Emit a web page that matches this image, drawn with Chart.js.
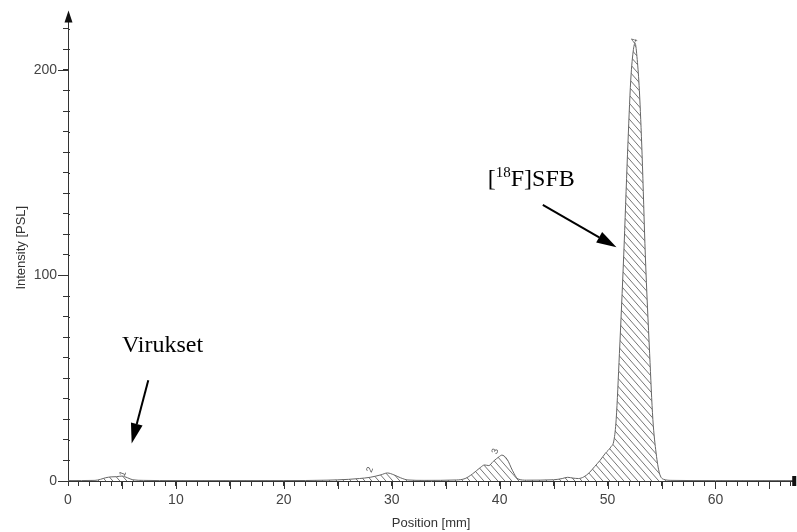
<!DOCTYPE html>
<html lang="fi">
<head>
<meta charset="UTF-8">
<title>Radio-TLC</title>
<script src="https://cdn.jsdelivr.net/npm/chart.js"></script>
<style>
  html, body { margin: 0; padding: 0; background: #fff; }
  #wrap { width: 797px; height: 532px; }
</style>
</head>
<body>
<div id="wrap"><canvas id="tlc"></canvas></div>
<script>
// Position [mm] and intensity [PSL]
const positions = [0, 2.5, 3.0, 3.5, 4.0, 4.5, 5.0, 5.5, 6.0, 7.0, 10, 15, 20, 24, 26, 27, 28, 29, 29.6, 30.2, 30.8, 31.5, 33,
  36, 36.8, 37.5, 38.2, 38.6, 39.0, 39.4, 40.0, 40.2, 40.7, 41.2, 41.7, 42.5, 45, 45.8, 46.3, 46.8, 47.3, 47.8,
  48.3, 48.8, 49.3, 49.8, 50.3, 50.6, 50.8, 51.1, 51.5, 51.85, 52.15, 52.4, 52.55, 52.75, 52.95, 53.2, 53.5,
  53.9, 54.2, 54.5, 54.8, 55.2, 56, 60, 67.3];
const intensity = [0.2, 0.3, 0.8, 1.6, 2.0, 2.1, 2.4, 1.6, 0.6, 0.3, 0.2, 0.2, 0.2, 0.4, 0.8, 1.2, 1.8, 3.0, 3.9, 3.0, 1.6, 0.5, 0.3,
  0.5, 1.2, 3.5, 6.5, 7.8, 7.5, 9.5, 12.0, 12.6, 10.5, 5.0, 1.0, 0.4, 0.6, 1.2, 1.8, 1.4, 1.2, 2.0,
  4.0, 7.0, 10.0, 13.5, 16.5, 20, 30, 62, 110, 159, 195, 210, 213, 205, 190, 159, 110,
  62, 30, 13.6, 4.0, 0.8, 0.3, 0.2, 0.2];

// peak numbers printed by the scanner software
const peakNo = ['1', '2', '3', '4'];
const peakNoX = [5.1, 28.0, 39.6, 52.5];
const peakNoY = [3.5, 5.5, 14.5, 214];

// hand-drawn annotations (data units)
const notes = [
  { text: 'Virukset', sup: '', x: 5.0, y: 62.8, from: [7.44, 49.0], to: [5.9, 18.3] },
  { text: 'F]SFB', sup: '18', x: 38.9, y: 143.6, from: [44.0, 134.3], to: [50.83, 113.7] }
];

const xMax = 67.3;
const yMax = 227;

const canvas = document.getElementById('tlc');
const mainCtx = canvas.getContext('2d');

function hatch() {
  const w = 7, h = 8;
  const c = document.createElement('canvas');
  c.width = w; c.height = h;
  const g = c.getContext('2d');
  g.strokeStyle = '#505050';
  g.lineWidth = 0.8;
  g.beginPath();
  g.moveTo(-w, -h); g.lineTo(2 * w, 2 * h);
  g.moveTo(-w, 0); g.lineTo(w, 2 * h);
  g.moveTo(0, -h); g.lineTo(2 * w, h);
  g.stroke();
  return mainCtx.createPattern(c, 'repeat');
}

function arrow(ctx, x1, y1, x2, y2, head, half) {
  const ang = Math.atan2(y2 - y1, x2 - x1);
  const bx = x2 - head * Math.cos(ang), by = y2 - head * Math.sin(ang);
  ctx.beginPath();
  ctx.moveTo(x1, y1);
  ctx.lineTo(bx, by);
  ctx.lineWidth = 2;
  ctx.stroke();
  ctx.beginPath();
  ctx.moveTo(x2, y2);
  ctx.lineTo(bx + half * Math.sin(ang), by - half * Math.cos(ang));
  ctx.lineTo(bx - half * Math.sin(ang), by + half * Math.cos(ang));
  ctx.closePath();
  ctx.fill();
}

const decor = {
  id: 'decor',
  afterDraw(chart) {
    const { ctx, chartArea: a, scales: { x, y } } = chart;
    ctx.save();
    ctx.strokeStyle = '#333';
    ctx.fillStyle = '#111';
    ctx.lineWidth = 1;

    // longer ticks
    for (let v = 0; v <= yMax; v += 10) {
      const py = Math.round(y.getPixelForValue(v)) + 0.5;
      ctx.beginPath();
      if (v % 100 === 0) { ctx.moveTo(a.left - 10, py); ctx.lineTo(a.left, py); }
      else { ctx.moveTo(a.left, py); ctx.lineTo(a.left + 2, py); }
      ctx.stroke();
    }
    for (let v = 5; v <= xMax; v += 5) {
      const px = Math.round(x.getPixelForValue(v)) + 0.5;
      ctx.beginPath();
      ctx.moveTo(px, a.bottom); ctx.lineTo(px, a.bottom + 8);
      ctx.stroke();
    }

    // axis arrow heads
    ctx.beginPath();
    ctx.moveTo(a.left + 0.5, a.top - 4);
    ctx.lineTo(a.left - 3.5, a.top + 8);
    ctx.lineTo(a.left + 4.5, a.top + 8);
    ctx.closePath();
    ctx.fill();
    ctx.fillRect(a.right - 2, a.bottom - 5, 4, 10);

    // peak numbers
    ctx.fillStyle = '#555';
    ctx.font = '9px "Liberation Sans", Arial, sans-serif';
    ctx.textAlign = 'center';
    ctx.textBaseline = 'middle';
    peakNo.forEach((t, i) => {
      ctx.save();
      ctx.translate(x.getPixelForValue(peakNoX[i]), y.getPixelForValue(peakNoY[i]));
      ctx.rotate(-70 * Math.PI / 180);
      ctx.fillText(t, 0, 0);
      ctx.restore();
    });

    // annotations
    ctx.fillStyle = '#000';
    ctx.strokeStyle = '#000';
    ctx.textAlign = 'left';
    ctx.textBaseline = 'alphabetic';
    const serif = '"Liberation Serif", "Times New Roman", serif';
    notes.forEach(n => {
      let px = x.getPixelForValue(n.x);
      const py = y.getPixelForValue(n.y);
      if (n.sup) {
        ctx.font = '24px ' + serif;
        ctx.fillText('[', px, py);
        px += ctx.measureText('[').width;
        ctx.font = '15px ' + serif;
        ctx.fillText(n.sup, px, py - 9);
        px += ctx.measureText(n.sup).width;
      }
      ctx.font = '24px ' + serif;
      ctx.fillText(n.text, px, py);
      arrow(ctx, x.getPixelForValue(n.from[0]), y.getPixelForValue(n.from[1]),
        x.getPixelForValue(n.to[0]), y.getPixelForValue(n.to[1]), 20, 6);
    });
    ctx.restore();
  }
};

const tickFont = { family: '"Liberation Sans", Arial, sans-serif', size: 14 };
const titleFont = { family: '"Liberation Sans", Arial, sans-serif', size: 13 };

new Chart(canvas, {
  type: 'line',
  data: {
    datasets: [{
      data: positions.map((p, i) => ({ x: p, y: intensity[i] })),
      borderColor: '#666',
      borderWidth: 1,
      backgroundColor: hatch(),
      fill: 'origin',
      pointRadius: 0,
      cubicInterpolationMode: 'monotone'
    }]
  },
  options: {
    responsive: true,
    maintainAspectRatio: false,
    animation: false,
    layout: { padding: { top: 13, right: 2, left: 0, bottom: 0 } },
    plugins: { legend: { display: false }, tooltip: { enabled: false } },
    scales: {
      x: {
        type: 'linear',
        min: 0,
        max: xMax,
        grid: { display: true, drawOnChartArea: false, tickLength: 5, tickColor: '#333' },
        border: { color: '#333', width: 1 },
        ticks: {
          stepSize: 1,
          autoSkip: false,
          maxRotation: 0,
          includeBounds: false,
          padding: 6,
          color: '#444',
          font: tickFont,
          callback: v => (v % 10 === 0 ? v : '')
        },
        title: { display: true, text: 'Position [mm]', color: '#333', font: titleFont, padding: { top: 0, bottom: 1 } },
        afterFit: s => { s.height = 51; }
      },
      y: {
        min: 0,
        max: yMax,
        grid: { display: true, drawOnChartArea: false, tickLength: 5, tickColor: '#333' },
        border: { color: '#333', width: 1 },
        ticks: {
          stepSize: 10,
          autoSkip: false,
          includeBounds: false,
          padding: 6,
          color: '#444',
          font: tickFont,
          callback: v => (v % 100 === 0 ? v : '')
        },
        title: { display: true, text: 'Intensity [PSL]', color: '#333', font: titleFont, padding: { top: 14, bottom: 0 } },
        afterFit: s => { s.width = 68; }
      }
    }
  },
  plugins: [decor]
});
</script>
</body>
</html>
